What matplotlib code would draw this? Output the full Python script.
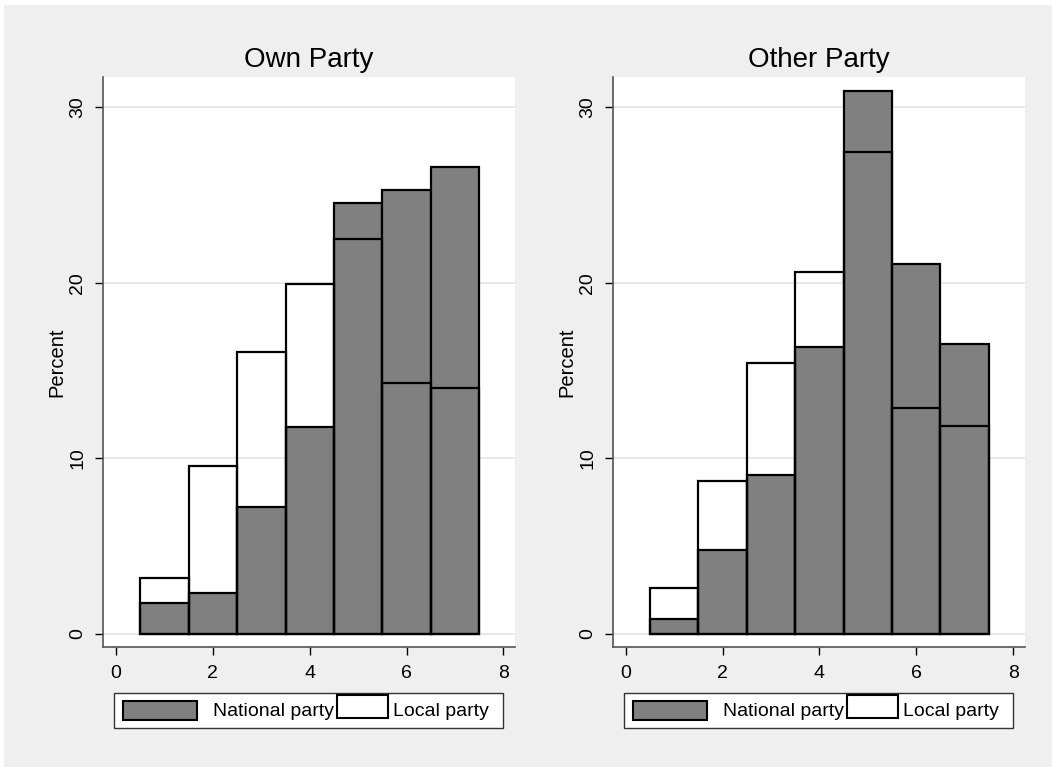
import matplotlib
matplotlib.use("Agg")
import matplotlib.pyplot as plt
from matplotlib.patches import Rectangle

plt.rcParams['font.family'] = ['Liberation Sans', 'DejaVu Sans']

bins = [1, 2, 3, 4, 5, 6, 7]
own_national = [1.77, 2.34, 7.25, 11.81, 24.54, 25.30, 26.59]
own_local = [3.19, 9.55, 16.09, 19.93, 22.52, 14.28, 14.04]
other_national = [0.85, 4.79, 9.04, 16.35, 30.94, 21.08, 16.54]
other_local = [2.60, 8.70, 15.46, 20.63, 27.48, 12.90, 11.87]
panel_titles = ["Own Party", "Other Party"]
legend_labels = ["National party", "Local party"]
y_ticks = [0, 10, 20, 30]
x_ticks = [0, 2, 4, 6, 8]

NAT_COLOR = '#808080'
W, H = 1052, 767
fig = plt.figure(figsize=(W / 100, H / 100), dpi=100)
fig.patch.set_facecolor('#efefef')


def px_rect(x0, y0, x1, y1, **kw):
    """Rectangle in figure pixel coords (y from top)."""
    r = Rectangle((x0 / W, 1 - y1 / H), (x1 - x0) / W, (y1 - y0) / H,
                  transform=fig.transFigure, **kw)
    fig.add_artist(r)
    return r


# white strips at top/left edges
px_rect(0, 0, W, 5, facecolor='white', edgecolor='none', zorder=0)
px_rect(0, 0, 4, H, facecolor='white', edgecolor='none', zorder=0)

ax_lefts = [103, 612.7]
ax_w = 412
ax_top, ax_bot = 76.7, 647
data = [(own_national, own_local), (other_national, other_local)]
leg_offsets = [0, 510]

for i, (nat, loc) in enumerate(data):
    ax = fig.add_axes([ax_lefts[i] / W, 1 - ax_bot / H, ax_w / W, (ax_bot - ax_top) / H])
    ax.set_facecolor('white')
    ax.bar(bins, nat, width=1.0, color=NAT_COLOR, edgecolor='black', linewidth=1.6, zorder=3)
    ax.bar(bins, loc, width=1.0, facecolor='none', edgecolor='black', linewidth=1.6, zorder=4)
    ax.set_xlim(-0.27, 8.24)
    ax.set_ylim(-0.74, 31.75)
    ax.set_yticks(y_ticks)
    ax.set_xticks(x_ticks)
    ax.yaxis.grid(True, color='#e4e4e4', linewidth=1.2, zorder=0)
    ax.set_axisbelow(True)
    for s in ['top', 'right']:
        ax.spines[s].set_visible(False)
    for s in ['left', 'bottom']:
        ax.spines[s].set_color('#555555')
        ax.spines[s].set_linewidth(1.2)
    ax.tick_params(axis='both', direction='out', length=6, width=1.0, color='black',
                   labelsize=14)
    ax.tick_params(axis='x', pad=7)
    ax.tick_params(axis='y', pad=6)
    for lab in ax.get_yticklabels():
        lab.set_rotation(90)
        lab.set_va('center')
    ax.set_ylabel("Percent", fontsize=14.5, labelpad=2)
    ax.set_title(panel_titles[i], fontsize=20, pad=7)

    # legend drawn manually in figure pixels
    o = leg_offsets[i]
    px_rect(114 + o, 693, 503 + o, 728, facecolor='white', edgecolor='#333333',
            linewidth=1.0, zorder=5)
    px_rect(123.3 + o, 701, 196.7 + o, 720, facecolor=NAT_COLOR, edgecolor='black',
            linewidth=1.5, zorder=6)
    px_rect(337 + o, 695, 387.7 + o, 717.7, facecolor='white', edgecolor='black',
            linewidth=1.5, zorder=6)
    fig.text((213 + o) / W, 1 - 711 / H, legend_labels[0], fontsize=14,
             ha='left', va='center', zorder=7)
    fig.text((393 + o) / W, 1 - 711 / H, legend_labels[1], fontsize=14,
             ha='left', va='center', zorder=7)

fig.savefig("out.png", dpi=100, facecolor=fig.get_facecolor())
